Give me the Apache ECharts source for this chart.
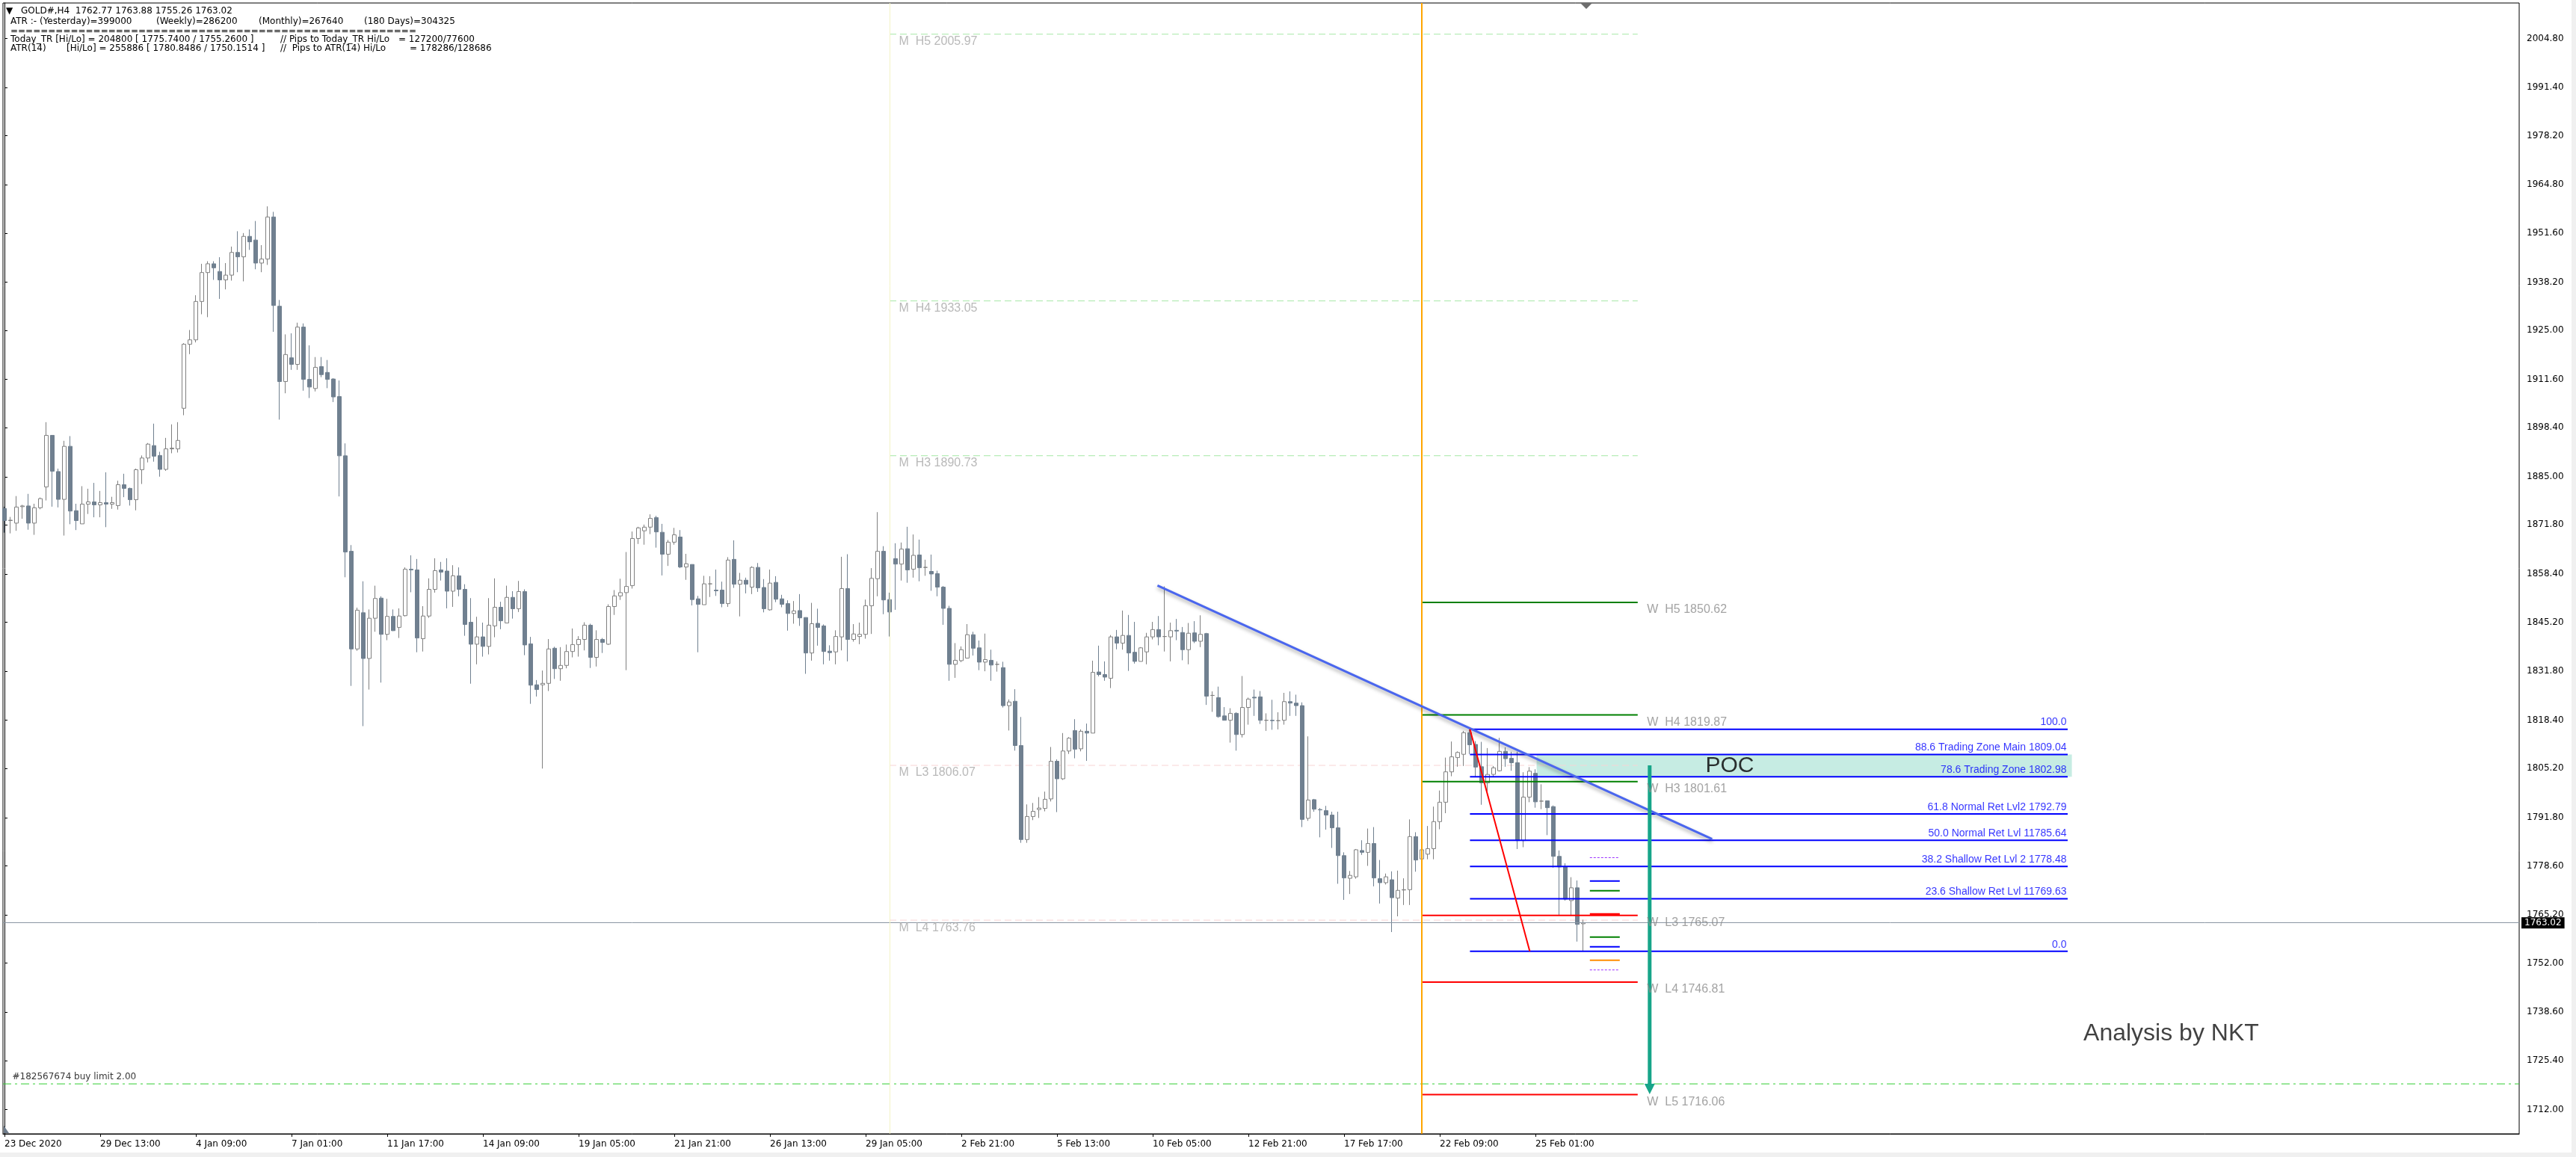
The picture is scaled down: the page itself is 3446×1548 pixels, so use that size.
<!DOCTYPE html>
<html><head><meta charset="utf-8">
<script src="https://cdn.jsdelivr.net/npm/echarts@6/dist/echarts.min.js"></script>
<style>html,body{margin:0;padding:0;background:#fff;overflow:hidden}#c{width:3446px;height:1548px}</style>
</head><body><div id="c"></div>
<script>
// ---------- DATA ----------
// H4 candles, index = bar number from 23 Dec 2020; [open, close, low, high]
const ohlc = [
[1876.3,1873.0,1869.7,1876.8],[1873.0,1873.1,1869.5,1874.0],[1872.3,1876.7,1870.2,1879.7],[1876.8,1877.0,1873.5,1877.3],
[1877.0,1872.3,1870.5,1880.3],[1872.3,1876.5,1869.1,1877.6],[1876.5,1879.0,1876.1,1879.3],[1882.2,1896.3,1878.5,1899.9],
[1896.3,1886.5,1876.8,1896.3],[1886.4,1878.8,1876.6,1887.2],[1878.8,1893.3,1868.9,1894.8],[1893.3,1875.6,1872.0,1896.1],
[1875.7,1873.0,1870.4,1877.6],[1872.1,1877.5,1872.1,1882.4],[1877.5,1878.1,1874.8,1881.7],[1878.1,1877.3,1873.9,1883.3],
[1877.3,1877.9,1873.9,1881.1],[1877.9,1877.5,1871.2,1886.2],[1877.5,1877.9,1876.2,1879.5],[1877.1,1882.8,1876.0,1883.9],
[1882.8,1881.8,1879.4,1885.8],[1881.8,1878.7,1877.1,1882.0],[1878.7,1886.9,1875.8,1887.2],[1886.9,1890.1,1883.0,1890.8],
[1890.1,1893.9,1888.9,1894.2],[1893.5,1890.6,1889.1,1899.5],[1890.8,1887.0,1885.0,1891.8],[1887.0,1892.6,1886.6,1895.6],
[1892.6,1892.8,1891.4,1899.3],[1892.6,1894.9,1891.6,1899.9],[1903.7,1921.2,1901.8,1921.5],[1921.2,1922.4,1918.5,1925.1],
[1922.4,1932.9,1921.7,1934.6],[1932.9,1940.8,1929.4,1943.2],[1940.8,1943.2,1928.6,1943.9],[1943.2,1942.1,1938.8,1943.9],
[1941.1,1938.8,1933.6,1945.0],[1938.8,1940.1,1936.2,1943.4],[1940.1,1946.3,1938.6,1947.9],[1946.3,1945.1,1940.9,1952.1],
[1945.1,1950.7,1938.4,1951.6],[1950.7,1949.2,1947.0,1952.6],[1949.7,1943.4,1941.7,1954.9],[1943.4,1944.5,1940.9,1948.3],
[1944.5,1956.0,1942.9,1958.9],[1956.0,1931.8,1924.6,1957.4],[1931.6,1911.0,1900.6,1933.3],[1911.0,1918.4,1907.8,1923.9],
[1917.5,1915.7,1914.2,1924.2],[1915.7,1925.9,1914.2,1927.1],[1925.9,1911.6,1908.5,1926.9],[1911.6,1909.5,1906.5,1920.9],
[1909.1,1914.9,1908.3,1917.7],[1915.1,1912.9,1912.2,1917.7],[1913.5,1911.6,1909.2,1916.9],[1911.7,1906.8,1905.4,1911.9],
[1906.9,1890.7,1879.6,1911.3],[1890.7,1864.4,1857.5,1894.1],[1864.6,1837.9,1827.8,1866.3],[1837.9,1848.5,1837.4,1849.2],
[1847.8,1835.3,1816.8,1856.4],[1835.3,1846.3,1826.8,1848.7],[1846.3,1851.7,1842.6,1855.2],[1851.8,1841.9,1828.7,1852.3],
[1841.9,1846.8,1840.3,1851.6],[1846.8,1842.9,1842.8,1848.7],[1843.8,1846.9,1840.9,1849.0],[1847.0,1859.7,1846.8,1860.2],
[1859.7,1859.5,1853.4,1863.5],[1859.5,1840.9,1837.0,1862.5],[1840.7,1846.9,1837.2,1849.6],[1846.9,1854.2,1846.4,1857.2],
[1854.2,1859.3,1853.3,1862.7],[1859.5,1858.9,1856.6,1861.7],[1859.2,1853.7,1849.0,1862.7],[1853.7,1857.9,1849.4,1860.8],
[1857.9,1854.2,1852.3,1860.2],[1854.2,1844.6,1841.5,1855.6],[1845.2,1839.2,1828.4,1851.8],[1839.2,1841.2,1833.7,1846.7],
[1841.2,1838.6,1835.8,1845.1],[1838.6,1844.4,1836.4,1851.8],[1844.2,1849.3,1841.1,1857.2],[1849.3,1845.6,1843.3,1850.8],
[1845.0,1852.0,1845.0,1855.2],[1852.0,1848.9,1846.2,1853.7],[1848.9,1853.6,1848.0,1856.5],[1853.6,1839.0,1836.2,1854.2],
[1839.3,1828.0,1822.9,1841.2],[1828.1,1826.8,1824.9,1829.4],[1828.1,1828.5,1805.2,1832.0],[1828.5,1837.9,1826.4,1840.6],
[1838.1,1832.5,1829.7,1838.5],[1832.5,1833.4,1829.2,1838.4],[1833.4,1837.2,1832.6,1839.1],[1837.2,1839.1,1835.6,1843.5],
[1839.1,1840.5,1835.8,1841.4],[1840.5,1844.4,1837.5,1845.2],[1844.4,1835.6,1832.7,1844.8],[1835.6,1840.5,1833.1,1843.0],
[1840.5,1839.7,1836.8,1840.9],[1839.2,1849.5,1839.0,1850.1],[1849.5,1852.4,1847.2,1854.0],[1852.4,1853.3,1851.3,1857.1],
[1853.3,1855.0,1832.1,1864.4],[1855.2,1868.1,1854.4,1870.0],[1868.1,1871.0,1866.6,1871.3],[1870.2,1871.2,1866.4,1871.9],
[1871.2,1873.6,1869.3,1874.7],[1873.8,1869.9,1865.6,1874.3],[1869.8,1863.8,1858.0,1872.1],[1863.8,1867.1,1860.6,1867.7],
[1867.1,1869.1,1866.4,1871.0],[1868.5,1860.3,1860.0,1870.4],[1860.3,1861.2,1856.8,1863.9],[1861.0,1851.4,1849.8,1861.0],
[1851.6,1850.1,1837.0,1852.4],[1850.0,1855.7,1850.0,1857.9],[1855.7,1855.7,1852.1,1857.8],[1854.0,1853.8,1852.4,1859.6],
[1854.0,1850.3,1849.3,1856.3],[1850.3,1862.2,1849.4,1863.0],[1862.4,1855.6,1854.6,1867.6],[1855.6,1856.7,1846.8,1858.7],
[1856.7,1855.6,1853.1,1857.4],[1854.8,1860.2,1852.9,1860.5],[1860.2,1854.6,1853.5,1861.4],[1854.7,1848.9,1847.9,1857.0],
[1848.6,1855.9,1848.4,1859.6],[1856.1,1851.5,1850.7,1857.8],[1851.6,1850.1,1849.3,1852.7],[1850.3,1847.6,1842.9,1851.2],
[1847.6,1848.3,1844.8,1851.0],[1848.4,1846.4,1844.2,1852.9],[1846.5,1836.8,1831.1,1846.5],[1836.8,1844.8,1834.7,1850.5],
[1844.9,1843.8,1838.8,1848.9],[1844.2,1837.2,1833.7,1844.6],[1837.3,1836.9,1834.7,1838.9],[1837.1,1841.3,1833.7,1843.0],
[1841.2,1854.4,1837.5,1863.1],[1854.4,1840.5,1834.5,1863.8],[1840.5,1842.0,1839.9,1844.7],[1841.3,1841.9,1839.2,1845.1],
[1841.9,1849.7,1840.7,1851.4],[1849.7,1857.2,1842.0,1860.0],[1857.1,1864.6,1852.3,1875.3],[1864.6,1851.3,1847.4,1866.0],
[1851.4,1848.0,1841.3,1853.3],[1862.6,1861.1,1848.6,1866.8],[1861.1,1865.2,1856.6,1867.0],[1865.3,1859.5,1856.0,1871.3],
[1859.7,1863.5,1857.4,1869.2],[1863.6,1860.1,1856.4,1867.8],[1860.2,1860.2,1857.9,1862.3],[1859.1,1858.4,1853.8,1863.7],
[1858.5,1854.8,1852.3,1859.3],[1854.8,1849.0,1844.5,1855.1],[1849.0,1833.7,1829.2,1849.7],[1833.7,1834.8,1830.0,1839.5],
[1834.7,1837.7,1834.3,1838.6],[1835.4,1841.8,1835.4,1844.7],[1841.8,1838.1,1836.1,1842.6],[1838.2,1834.3,1832.1,1840.2],
[1834.3,1835.0,1831.8,1842.1],[1834.8,1833.5,1829.2,1837.7],[1833.7,1833.7,1831.7,1834.5],[1832.8,1822.4,1821.9,1834.4],
[1822.4,1823.4,1815.6,1824.1],[1823.6,1811.5,1810.1,1826.9],[1811.5,1785.8,1784.9,1819.3],[1785.8,1792.1,1784.9,1795.4],
[1792.1,1793.5,1791.1,1795.8],[1794.0,1794.4,1791.7,1797.4],[1794.3,1796.8,1793.5,1798.9],[1796.9,1807.2,1796.2,1811.1],
[1807.2,1802.4,1793.3,1807.7],[1802.4,1810.0,1802.1,1814.9],[1810.0,1813.5,1809.2,1813.8],[1815.6,1810.5,1808.0,1818.7],
[1810.6,1815.4,1809.9,1815.9],[1815.4,1814.9,1807.3,1817.5],[1814.9,1831.5,1814.9,1834.7],[1831.6,1830.9,1830.4,1838.8],
[1830.9,1830.2,1829.2,1834.5],[1829.9,1841.2,1827.2,1841.7],[1841.2,1839.5,1837.8,1843.1],[1839.5,1841.6,1837.7,1848.4],
[1841.6,1836.8,1831.9,1847.2],[1837.0,1834.5,1833.9,1845.3],[1834.5,1838.2,1834.5,1838.4],[1837.1,1841.2,1833.7,1842.3],
[1841.2,1843.2,1840.5,1845.3],[1843.2,1841.2,1838.9,1846.9],[1841.3,1841.3,1837.2,1855.0],[1841.2,1842.9,1834.5,1845.1],
[1843.0,1842.8,1840.3,1846.1],[1842.4,1837.7,1834.8,1843.9],[1837.7,1842.2,1833.7,1845.0],[1842.3,1840.0,1839.5,1845.5],
[1840.0,1841.9,1838.4,1847.1],[1842.1,1825.0,1822.6,1842.3],[1825.2,1825.2,1820.7,1826.3],[1824.6,1819.4,1819.1,1827.6],
[1819.6,1818.4,1818.4,1822.0],[1818.4,1820.3,1812.3,1821.7],[1820.3,1814.5,1810.1,1820.6],[1814.5,1821.9,1813.7,1830.5],
[1821.9,1824.2,1817.2,1824.6],[1824.7,1824.5,1819.6,1826.8],[1824.8,1818.4,1817.4,1826.4],[1818.4,1818.4,1815.5,1820.3],
[1818.4,1818.3,1815.8,1824.0],[1818.3,1818.3,1815.9,1820.6],[1818.4,1823.5,1817.2,1825.9],[1823.5,1823.1,1819.6,1826.3],
[1823.1,1822.4,1819.6,1825.4],[1822.4,1791.3,1789.2,1823.3],[1791.6,1796.6,1790.9,1814.0],[1796.7,1794.1,1793.4,1796.9],
[1794.0,1793.9,1786.4,1794.4],[1793.7,1792.5,1788.5,1795.0],[1792.5,1789.0,1783.5,1793.4],[1789.0,1781.4,1773.7,1793.4],
[1781.4,1775.3,1769.3,1782.3],[1775.2,1776.0,1770.9,1777.2],[1775.6,1783.0,1775.1,1783.2],[1782.8,1782.3,1781.6,1785.6],
[1782.3,1784.7,1778.6,1788.8],[1784.7,1775.3,1773.0,1789.2],[1775.1,1774.0,1768.3,1780.2],[1774.0,1775.6,1773.5,1776.5],
[1774.8,1769.9,1760.5,1777.1],[1769.8,1771.9,1764.8,1777.3],[1772.0,1772.1,1767.9,1775.2],[1772.1,1786.6,1767.9,1791.3],
[1786.6,1780.2,1777.0,1787.8],[1780.5,1783.0,1778.8,1783.9],[1781.8,1783.3,1780.4,1789.5],[1783.3,1790.7,1780.4,1794.8],
[1790.7,1796.0,1788.6,1799.2],[1796.0,1804.3,1793.0,1808.2],[1804.3,1808.4,1803.1,1812.6],[1808.2,1809.6,1805.7,1809.9],
[1809.1,1815.0,1805.9,1815.5],[1815.0,1811.7,1809.2,1815.96],[1811.8,1805.6,1803.0,1812.7],[1805.7,1801.3,1795.3,1812.5],
[1801.3,1803.6,1799.0,1810.8],[1803.6,1805.4,1802.9,1805.9],[1804.6,1809.9,1804.4,1813.6],[1809.9,1807.9,1805.7,1811.0],
[1808.0,1806.8,1804.6,1809.8],[1806.8,1785.5,1783.2,1809.8],[1785.5,1797.4,1783.7,1804.2],[1797.4,1804.5,1796.0,1805.6],
[1803.9,1796.1,1794.5,1805.0],[1796.3,1796.3,1794.1,1800.9],[1796.4,1794.5,1787.0,1796.4],[1794.8,1781.2,1778.1,1795.1],
[1781.2,1778.3,1765.2,1782.8],[1778.3,1769.5,1769.1,1779.3],[1769.1,1772.6,1764.9,1775.5],[1772.6,1762.6,1757.9,1774.6],
[1762.77,1763.02,1755.26,1763.88]
];
const xTickBars = [0,16,32,48,64,80,96,112,128,144,160,176,192,208,224,240,256];
const xTickLabels = ['23 Dec 2020','29 Dec 13:00','4 Jan 09:00','7 Jan 01:00','11 Jan 17:00','14 Jan 09:00','19 Jan 05:00','21 Jan 21:00','26 Jan 13:00','29 Jan 05:00','2 Feb 21:00','5 Feb 13:00','10 Feb 05:00','12 Feb 21:00','17 Feb 17:00','22 Feb 09:00','25 Feb 01:00'];
const yTickValues = [2004.80,1991.40,1978.20,1964.80,1951.60,1938.20,1925.00,1911.60,1898.40,1885.00,1871.80,1858.40,1845.20,1831.80,1818.40,1805.20,1791.80,1778.60,1765.20,1752.00,1738.60,1725.40,1712.00];
const weeklyNames = ['W  H5','W  H4','W  H3','W  L3','W  L4','W  L5'];
const weeklyValues = [1850.62,1819.87,1801.61,1765.07,1746.81,1716.06];
const monthlyNames = ['M  H5','M  H4','M  H3','M  L3','M  L4'];
const monthlyValues = [2005.97,1933.05,1890.73,1806.07,1763.76];
const fibLevels = [100.0,88.6,78.6,61.8,50.0,38.2,23.6,0.0];
const fibTexts = ['100.0','88.6 Trading Zone Main 1809.04','78.6 Trading Zone 1802.98','61.8 Normal Ret Lvl2 1792.79','50.0 Normal Ret Lvl 11785.64','38.2 Shallow Ret Lvl 2 1778.48','23.6 Shallow Ret Lvl 11769.63','0.0'];
const fibHigh = 1815.96, fibLow = 1755.26;
const pocZone = [1809.04, 1802.98];
const currentPrice = 1763.02;
const buyLimitPrice = 1719.00;
const trendLine = [[192.8,1855.26],[285.55,1785.91]];
const swingLine = [[245.05,1815.96],[255.05,1755.26]];
const arrowFromTo = [1806.07, 1717.6];
const atrMarkNames = ['atrHi','blue','green','red','green','blue','orange','atrLo'];
const atrMarkValues = [1780.85,1774.47,1771.81,1765.35,1759.14,1756.49,1752.81,1750.15];
const headerLines = [
 ['▼', 'GOLD#,H4  1762.77 1763.88 1755.26 1763.02'],
 ['ATR :- (Yesterday)=399000','(Weekly)=286200','(Monthly)=267640','(180 Days)=304325'],
 ['======================================================'],
 ['Today_TR [Hi/Lo] = 204800 [ 1775.7400 / 1755.2600 ]','// Pips to Today_TR Hi/Lo','= 127200/77600'],
 ['ATR(14)','[Hi/Lo] = 255886 [ 1780.8486 / 1750.1514 ]','//  Pips to ATR(14) Hi/Lo','= 178286/128686']
];

// ---------- LAYOUT (bar-index / price space) ----------
const X_MIN = -0.25, X_MAX = 420.5, Y_MIN = 1705.34, Y_MAX = 2014.5;
const MONTH_START = 148, WEEK_START = 237, PIVOT_END = 273.1;
const FIB_START = 245.05, FIB_END = 345.0, ZONE_START = 256.2, ZONE_END = 345.7;
const MARK_START = 265.1, MARK_END = 270.1, ARROW_X = 275.1;

const chart = echarts.init(document.getElementById('c'), null, {renderer:'canvas', width:3446, height:1548});
const series = [];
function hseg(x1, x2, y, ls, z) {
  series.push({type:'line', data:[[x1,y],[x2,y]], symbol:'none', silent:true, animation:false, lineStyle:ls, z:z||4});
}
function textAt(x, y, txt, lab, z) {
  series.push({type:'scatter', data:[{value:[x,y], name:txt}], symbolSize:1, itemStyle:{color:'rgba(0,0,0,0)'}, silent:true, animation:false, z:z||6,
    label:Object.assign({show:true, formatter:'{b}'}, lab)});
}
const pivotFont = {fontFamily:'"Liberation Sans Narrow","Liberation Sans",sans-serif', fontSize:16, color:'#8c8c8c'};

// POC zone
series.push({type:'line', data:[[ZONE_START,pocZone[0]],[ZONE_END,pocZone[0]]], symbol:'none', lineStyle:{width:0}, silent:true, animation:false, z:1,
  markArea:{silent:true, itemStyle:{color:'#c6ece3'}, data:[[{coord:[ZONE_START,pocZone[0]]},{coord:[ZONE_END,pocZone[1]]}]]}});

// monthly pivots
monthlyValues.forEach((v,k)=>{
  const isH = monthlyNames[k].indexOf('H')>=0;
  hseg(MONTH_START, PIVOT_END, v, {color: isH ? '#a6e8a6' : '#f8d4d4', width:1, type:[9,5]}, 2);
  textAt(MONTH_START, v, monthlyNames[k]+' '+v.toFixed(2), Object.assign({position:'right', distance:12, offset:[0,10]}, pivotFont, {color:'#a8a8a8'}));
});

// candles
series.push({
  type:'candlestick', data: ohlc.map((d,i)=>[i,d[0],d[1],d[2],d[3]]), barWidth:5, z:3, animation:false, silent:true,
  itemStyle:{color:'#ffffff', color0:'#708090', borderColor:'#808080', borderColor0:'#708090', borderWidth:1},
  markLine:{silent:true, symbol:['none','none'], animation:false, data:[
    {yAxis: currentPrice, lineStyle:{color:'#8a96a3', width:1, type:'solid'},
     label:{show:true, position:'end', distance:3, formatter: currentPrice.toFixed(2), backgroundColor:'#000', color:'#fff', padding:[2,4,1,4], fontFamily:'DejaVu Sans', fontSize:12}},
    {xAxis: MONTH_START, lineStyle:{color:'#f3f3c4', width:1, type:'solid'}, label:{show:false}},
    {xAxis: WEEK_START, lineStyle:{color:'#ffa500', width:2, type:'solid'}, label:{show:false}}
  ]}
});

// weekly pivots
weeklyValues.forEach((v,k)=>{
  const isH = weeklyNames[k].indexOf('H')>=0;
  hseg(WEEK_START, PIVOT_END, v, {color: isH ? '#008000' : '#ff0000', width:2}, 4);
  textAt(PIVOT_END, v, weeklyNames[k]+' '+v.toFixed(2), Object.assign({position:'right', distance:12, offset:[0,10]}, pivotFont));
});

// fibonacci
fibLevels.forEach((lv,k)=>{
  const v = fibLow + lv/100*(fibHigh-fibLow);
  hseg(FIB_START, FIB_END, v, {color:'#0000ff', width:2}, 4);
  textAt(FIB_END, v, fibTexts[k], {position:'left', distance:1, offset:[0,-9], color:'#0000ff', fontFamily:'"Liberation Sans",sans-serif', fontSize:14});
});

// trend line + swing line
series.push({type:'line', data:trendLine, symbol:'none', silent:true, animation:false, z:5,
  lineStyle:{color:'#4a66ee', width:3, shadowBlur:5, shadowColor:'rgba(0,0,0,0.35)', shadowOffsetY:3}});
series.push({type:'line', data:swingLine, symbol:'none', silent:true, animation:false, z:5, lineStyle:{color:'#ff0000', width:2}});

// small level marks near last bar
atrMarkValues.forEach((v,k)=>{
  const n = atrMarkNames[k];
  const st = n.indexOf('atr')===0 ? {color:'#9b30ff', width:1, type:[3,2]} :
    {color: n==='blue'?'#0000ff': n==='green'?'#008000': n==='red'?'#ff0000':'#ff8c00', width: n==='red'?3:2};
  hseg(MARK_START, MARK_END, v, st, 5);
});

// buy limit
hseg(X_MIN, X_MAX, buyLimitPrice, {color:'#32cd32', width:1, type:[11,5,3,5]}, 4);
textAt(X_MIN, buyLimitPrice, '#182567674 buy limit 2.00', {position:'right', distance:12, offset:[0,-9], color:'#000', fontFamily:'DejaVu Sans', fontSize:12});

// arrow
series.push({type:'line', silent:true, animation:false, z:6, showSymbol:true,
  data:[{value:[ARROW_X,arrowFromTo[0]], symbol:'none'},{value:[ARROW_X,arrowFromTo[1]], symbol:'triangle', symbolSize:[14,14], symbolRotate:180}],
  lineStyle:{color:'#17a589', width:5}, itemStyle:{color:'#17a589'}});

// texts
textAt(288.5, (pocZone[0]+pocZone[1])/2, 'POC', {position:'inside', color:'#000', fontFamily:'"Liberation Sans",sans-serif', fontSize:30});
textAt(362.3, 1732.7, 'Analysis by NKT', {position:'inside', color:'#111', fontFamily:'"Liberation Sans",sans-serif', fontSize:32});

// header
const hdrX = [[8,28],[14,209,346,487],[14],[14,375,533],[14,89,375,548]];
const hdrY = [15,29,42,53,65];
const graphics = [];
headerLines.forEach((parts,r)=>parts.forEach((t,c)=>{
  graphics.push({type:'text', silent:true, z:100, style:{text:t, x:hdrX[r][c], y:hdrY[r], font:'12px "DejaVu Sans"', fill:'#000', verticalAlign:'middle'}});
}));
graphics.push({type:'polygon', silent:true, z:100, shape:{points:[[2114,4],[2130,4],[2122,12]]}, style:{fill:'#6e6e6e'}});
graphics.push({type:'polygon', silent:true, z:100, shape:{points:[[5,1506],[5,1516],[12,1516]]}, style:{fill:'#6e7c8c'}});
graphics.push({type:'rect', silent:true, z:-1, shape:{x:3440,y:0,width:6,height:1548}, style:{fill:'#f0f0f0'}});
graphics.push({type:'rect', silent:true, z:-1, shape:{x:0,y:1542,width:3446,height:6}, style:{fill:'#f0f0f0'}});

chart.setOption({
  animation:false,
  backgroundColor:'#ffffff',
  grid:{left:4, top:4, width:3366, height:1513, show:true, borderColor:'#000', borderWidth:1, backgroundColor:'transparent'},
  xAxis:{type:'value', min:X_MIN, max:X_MAX, position:'bottom',
    axisLine:{show:true, onZero:false, lineStyle:{color:'#000', width:1}},
    axisTick:{show:true, length:4, lineStyle:{color:'#000'}, customValues:xTickBars},
    axisLabel:{show:true, customValues:xTickBars, align:'left', margin:8, color:'#000', fontFamily:'DejaVu Sans', fontSize:12,
      formatter:v=>{const k = xTickBars.indexOf(Math.round(v)); return k>=0 ? xTickLabels[k] : '';}},
    splitLine:{show:false}},
  yAxis:{type:'value', min:Y_MIN, max:Y_MAX, position:'right', scale:true,
    axisLine:{show:true, lineStyle:{color:'#000', width:1}},
    axisTick:{show:true, length:4, lineStyle:{color:'#000'}, customValues:yTickValues},
    axisLabel:{show:true, customValues:yTickValues, margin:10, color:'#000', fontFamily:'DejaVu Sans', fontSize:12, formatter:v=>v.toFixed(2)},
    splitLine:{show:false}},
  series: series,
  graphic: graphics
});
</script></body></html>
